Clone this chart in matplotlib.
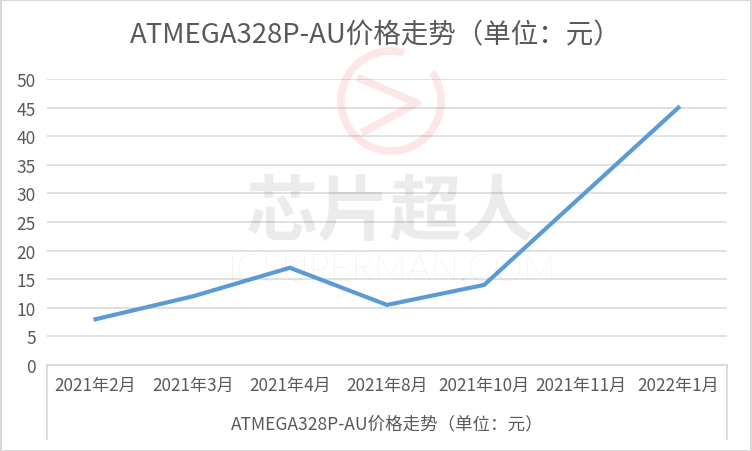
import matplotlib
matplotlib.use("Agg")
import matplotlib.pyplot as plt
from matplotlib.lines import Line2D
from matplotlib.patches import Arc, Rectangle
import numpy as np

plt.rcParams['font.family'] = ['Noto Sans CJK SC', 'DejaVu Sans']

categories = ["2021年2月", "2021年3月", "2021年4月", "2021年8月", "2021年10月", "2021年11月", "2022年1月"]
prices = [8, 12, 17, 10.5, 14, 29.5, 45]
yticks = [0, 5, 10, 15, 20, 25, 30, 35, 40, 45, 50]
title = "ATMEGA328P-AU价格走势（单位：元）"
group_label = "ATMEGA328P-AU价格走势（单位：元）"

W, H = 752, 452
fig = plt.figure(figsize=(W / 100, H / 100), dpi=100)
fig.patch.set_facecolor("white")

left, right, top, bottom = 47, 727, 80, 366
ax = fig.add_axes([left / W, 1 - bottom / H, (right - left) / W, (bottom - top) / H])

x = np.arange(len(categories))
ax.plot(x, prices, color="#5B9BD5", linewidth=3.0, solid_joinstyle="miter", zorder=3)
ax.set_xlim(-0.5, len(categories) - 0.5)
ax.set_ylim(0, 50)
ax.set_yticks(yticks)
ax.yaxis.grid(True, color="#d9d9d9", linewidth=1.1)
ax.set_axisbelow(True)
for s in ["top", "right", "left"]:
    ax.spines[s].set_visible(False)
ax.spines["bottom"].set_color("#d9d9d9")
ax.spines["bottom"].set_linewidth(1.3)
ax.tick_params(axis="y", length=0, labelsize=12.5, labelcolor="#595959", pad=8)
ax.set_xticks(x)
ax.set_xticklabels(categories)
ax.tick_params(axis="x", length=0, labelsize=12.3, labelcolor="#595959", pad=8)

# multi-level category box
box_depth = (440 - 366) / (bottom - top)
for xa in (0, 1):
    ax.add_line(Line2D([xa, xa], [0, -box_depth], transform=ax.transAxes,
                       color="#d9d9d9", linewidth=1.3, clip_on=False))
ax.text(0.5, -(424 - 366) / (bottom - top), group_label, transform=ax.transAxes,
        ha="center", va="center", fontsize=12.6, color="#595959")

fig.text(0.5, 1 - 36 / H, title, ha="center", va="center", fontsize=19.8, color="#595959")

# watermark
lt = fig.dpi_scale_trans
cx, cy, r = 3.91, (H - 102) / 100, 0.50
fig.patches.append(Arc((cx, cy), 2 * r, 2 * r, theta1=75, theta2=395, transform=lt,
                       color="#e04040", alpha=0.12, linewidth=5.5))
zz_x = [cx - 0.30, cx + 0.26, cx - 0.26]
zz_y = [cy + 0.22, cy - 0.02, cy - 0.30]
fig.lines.append(Line2D(zz_x, zz_y, transform=lt, color="#e04040", alpha=0.12, linewidth=5.5))
fig.text(390 / W, 1 - 213 / H, "芯片超人", ha="center", va="center", fontsize=52,
         fontweight="bold", color="black", alpha=0.08, zorder=10)
fig.text(392 / W, 1 - 271 / H, "ICSUPERMAN.COM", ha="center", va="center", fontsize=27,
         family=["Lato", "DejaVu Sans"], fontweight="light", color="black", alpha=0.1, zorder=10)

# figure border
fig.patches.append(Rectangle((0.5 / W, 0.5 / H), 1 - 1.5 / W, 1 - 1.5 / H, transform=fig.transFigure,
                             fill=False, edgecolor="#d9d9d9", linewidth=1.5))

fig.savefig("out.png", dpi=100)
